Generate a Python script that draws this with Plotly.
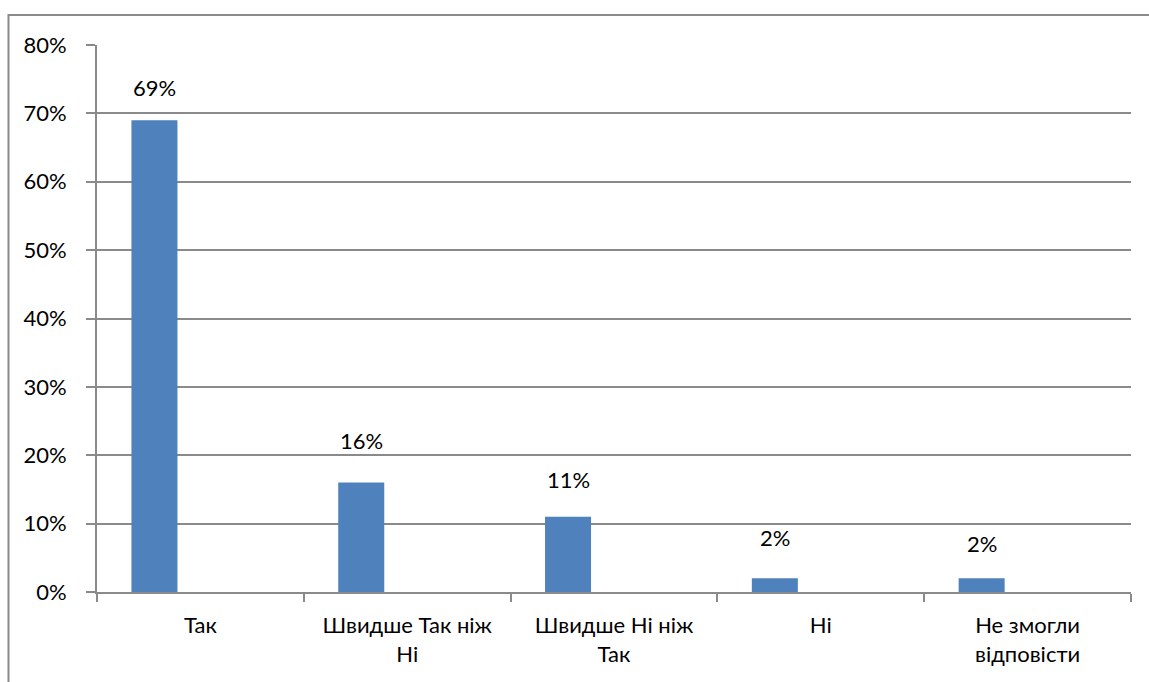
import plotly.graph_objects as go

# survey answers (share of respondents)
categories = ["Так", "Швидше Так ніж<br>Ні", "Швидше Ні ніж<br>Так", "Ні", "Не змогли<br>відповісти"]
shares = [0.69, 0.16, 0.11, 0.02, 0.02]
label_texts = ["69%", "16%", "11%", "2%", "2%"]
label_shift_px = [33, 42, 37, 41, 35]   # labels were nudged by hand in the original

tick_vals = [0, 0.1, 0.2, 0.3, 0.4, 0.5, 0.6, 0.7, 0.8]

FONT = "Lato, 'Open Sans', sans-serif"
FONT_SIZE = 22
GREY = "#8a8a8a"
BLUE = "#4f81bd"

fig = go.Figure()

# one visible series out of three in the original clustered layout -> bar sits in the left third
fig.add_trace(go.Bar(
    x=categories, y=shares,
    marker=dict(color=BLUE, line=dict(width=0)),
    width=0.2225, offset=-0.3335,
    hoverinfo="skip",
))

for cat, val, txt, dy in zip(categories, shares, label_texts, label_shift_px):
    fig.add_annotation(
        x=cat, y=val, text=txt, showarrow=False,
        xshift=-46, yshift=dy, yanchor="middle",
        font=dict(family=FONT, size=FONT_SIZE, color="black"),
    )

# outer chart frame (runs off the right/bottom of the picture)
fig.add_shape(type="rect", xref="paper", yref="paper",
              x0=-0.0856, x1=1.2, y0=-0.3, y1=1.0548,
              line=dict(color=GREY, width=2), fillcolor="rgba(0,0,0,0)", layer="below")

fig.update_layout(
    width=1149, height=682,
    margin=dict(l=97, r=18, t=45, b=90),
    paper_bgcolor="white", plot_bgcolor="white",
    showlegend=False,
    font=dict(family=FONT, size=FONT_SIZE, color="black"),
    xaxis=dict(
        type="category", range=[-0.5, 4.5],
        tickson="boundaries", ticks="outside", ticklen=8, tickwidth=1.5, tickcolor=GREY,
        showline=True, linecolor=GREY, linewidth=2,
        showgrid=False, ticklabelstandoff=13,
        tickfont=dict(family=FONT, size=FONT_SIZE, color="black"),
    ),
    yaxis=dict(
        range=[0, 0.8], tickvals=tick_vals, tickformat=".0%",
        ticks="outside", ticklen=9, tickwidth=1.5, tickcolor=GREY,
        showline=True, linecolor=GREY, linewidth=2,
        showgrid=True, gridcolor=GREY, gridwidth=2,
        zeroline=False, ticklabelstandoff=15,
        tickfont=dict(family=FONT, size=FONT_SIZE, color="black"),
    ),
)

fig.write_html("out.html", config={"displayModeBar": False})

# drop the default body margin so the chart sits at the page origin
with open("out.html", encoding="utf-8") as f:
    html = f.read()
html = html.replace("<head>", "<head><style>body{margin:0;overflow:hidden}</style>", 1)
with open("out.html", "w", encoding="utf-8") as f:
    f.write(html)
